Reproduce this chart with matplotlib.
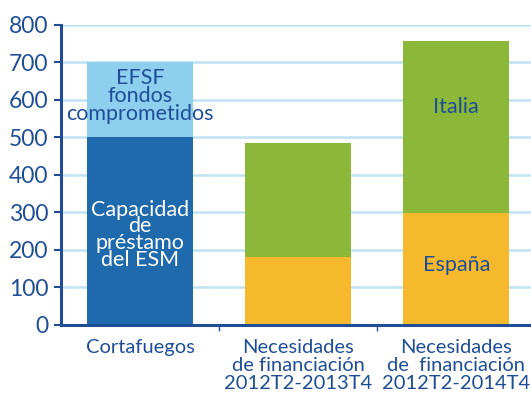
import matplotlib.pyplot as plt
import numpy as np

plt.rcParams['font.family'] = ['Lato', 'DejaVu Sans']

categories = ["Cortafuegos",
              "Necesidades\nde financiación\n2012T2-2013T4",
              "Necesidades\nde  financiación\n2012T2-2014T4"]
esm = [500, 0, 0]
efsf = [200, 0, 0]
espana = [0, 181, 298]
italia = [0, 304, 459]

DARK = "#1f4e96"
C_ESM = "#1f6aad"
C_EFSF = "#8ecff0"
C_ESP = "#f6b92e"
C_ITA = "#8bb838"

fig = plt.figure(figsize=(5.31, 4.01), dpi=100)
ax = fig.add_axes([0.115, 0.19, 0.893, 0.748])

x = np.arange(len(categories))
w = 0.67
ax.bar(x, esm, w, color=C_ESM, zorder=2)
ax.bar(x, efsf, w, bottom=esm, color=C_EFSF, zorder=2)
ax.bar(x, espana, w, color=C_ESP, zorder=2)
ax.bar(x, italia, w, bottom=espana, color=C_ITA, zorder=2)

ax.set_xlim(-0.5, 2.5)
ax.set_ylim(0, 800)
ax.set_yticks(range(0, 801, 100))
ax.yaxis.grid(True, color="#bfe3f3", linewidth=1.8, zorder=0)
ax.set_axisbelow(True)

ax.set_xticks(x)
ax.set_xticklabels(categories, color=DARK, fontsize=14.5, linespacing=1.1)
ax.tick_params(axis="x", length=0, pad=10)
ax.set_xticks([0.5, 1.5], minor=True)
ax.tick_params(axis="x", which="minor", length=4, width=1, color=DARK, direction="out")
ax.tick_params(axis="y", length=5, width=1.5, color=DARK, labelsize=16.5,
               labelcolor=DARK, pad=4)

for s in ["top", "right"]:
    ax.spines[s].set_visible(False)
for s in ["left", "bottom"]:
    ax.spines[s].set_color(DARK)
    ax.spines[s].set_linewidth(2.2)

ax.text(0, 610, "EFSF\nfondos\ncomprometidos", ha="center", va="center",
        color=DARK, fontsize=15.5, linespacing=0.9, zorder=3)
ax.text(0, 240, "Capacidad\nde\npréstamo\ndel ESM", ha="center", va="center",
        color="white", fontsize=15.5, linespacing=0.8, zorder=3)
ax.text(2, 580, "Italia", ha="center", va="center", color=DARK, fontsize=15.5, zorder=3)
ax.text(2, 160, "España", ha="center", va="center", color=DARK, fontsize=15.5, zorder=3)

fig.savefig("out.png", dpi=100)
